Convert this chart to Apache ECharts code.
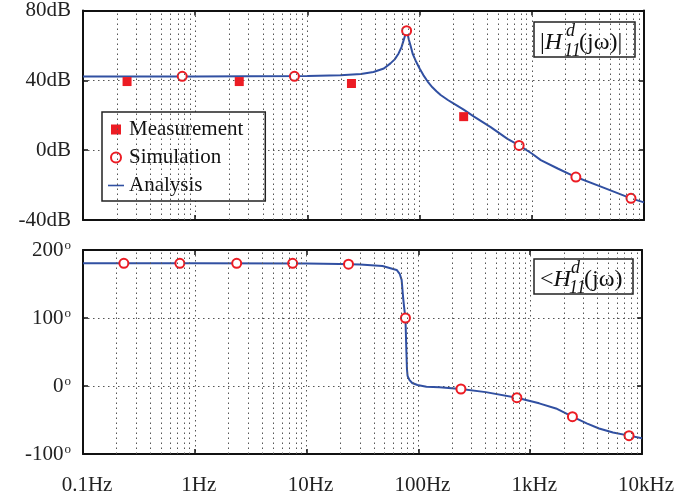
<!DOCTYPE html>
<html>
<head>
<meta charset="utf-8">
<script src="https://cdn.jsdelivr.net/npm/echarts@6/dist/echarts.min.js"></script>
<style>html,body{margin:0;padding:0;background:#fff}#c{width:677px;height:501px}</style>
</head>
<body>
<div id="c"></div>
<script>
// ---- data ----
const xTickValues = [0.1, 1, 10, 100, 1000, 10000];
const xTickLabels = ['0.1Hz', '1Hz', '10Hz', '100Hz', '1kHz', '10kHz'];
const magTickLabels = ['-40dB', '0dB', '40dB', '80dB'];
const phaseTickLabels = ['-100', '0', '100', '200'];

const measFreq = [0.247, 2.47, 24.7, 247];
const measMag  = [39.3, 39.3, 38.2, 19.2];

const simMagFreq = [0.766, 7.66, 76.6, 771, 2471, 7656];
const simMag     = [42.3, 42.3, 68.4, 2.7, -15.4, -27.6];

const simPhaseFreq = [0.232, 0.735, 2.37, 7.5, 23.7, 76.6, 240, 760, 2386, 7656];
const simPhase     = [180.4, 180.4, 180.4, 180.4, 179.2, 100, -4.4, -17.2, -45.1, -73];

const anaMagFreq = [0.1, 1, 3, 10, 19.7, 30, 38.8, 48, 55, 60, 65, 69, 72, 74.5, 76.6, 78, 80, 83, 87, 92, 100, 108, 118, 130, 142, 154, 180, 200, 247, 303, 430, 607, 771, 1000, 1203, 1700, 2471, 4130, 7656, 10000];
const anaMag     = [42.2, 42.2, 42.3, 42.5, 42.9, 43.6, 44.8, 46.8, 49.7, 52, 55.4, 59, 62.9, 66, 69, 67, 63.5, 60, 55, 51.4, 46.8, 43, 39.3, 36, 33.6, 31.6, 28.6, 26.8, 23.2, 19.4, 13.2, 6.5, 2.7, -1.9, -5.7, -10.5, -15.4, -20.9, -27.6, -29.9];

const anaPhaseFreq = [0.1, 1, 10, 19.7, 30, 47.7, 63.9, 68, 70.8, 73, 74.5, 75.5, 76.6, 78, 79, 80, 83, 88, 98, 118, 154, 240, 400, 760, 1203, 1700, 2386, 3200, 4130, 5500, 7656, 10000];
const anaPhase     = [180.4, 180.4, 180.3, 179.4, 178.6, 176.5, 170.6, 165, 156, 130, 116, 108, 100, 53, 25, 15, 9, 4.4, 1.5, -1, -2, -4.4, -9, -17.2, -25.5, -33, -45.1, -55, -62.5, -68.5, -73, -76.9];

// minor grid positions (2..9 per decade)
const minorGridFreq = [];
[0.1, 1, 10, 100, 1000].forEach(d => { for (let k = 2; k <= 9; k++) minorGridFreq.push(+(d * k).toPrecision(3)); });

const zip = (a, b) => a.map((v, i) => [v, b[i]]);

// ---- styles ----
const FONT = "'Liberation Serif', 'Times New Roman', serif";
const BLUE = '#3150a2';
const RED = '#ec1c24';
const AXIS_COLOR = '#111';
const gridDot = { color: '#555', width: 1, type: [1.5, 3.5] };

function xAxisFor(gridIndex, position, showLabel) {
  return {
    type: 'log', logBase: 10, min: 0.1, max: 10000, gridIndex, position,
    splitNumber: 5,
    axisLine: { show: true, onZero: false, lineStyle: { color: AXIS_COLOR, width: 2 } },
    axisTick: { show: true, inside: true, length: 5, lineStyle: { color: AXIS_COLOR, width: 1.5 } },
    axisLabel: {
      show: showLabel, margin: 21, fontFamily: FONT, fontSize: 21, color: '#222',
      padding: [0, 0, 0, 8],
      formatter: v => { const i = xTickValues.findIndex(t => Math.abs(Math.log10(t) - Math.log10(v)) < 1e-6); return i >= 0 ? xTickLabels[i] : ''; }
    },
    splitLine: { show: position === 'bottom', lineStyle: gridDot },
    minorTick: { show: false }
  };
}

function yAxisFor(gridIndex, position, min, max, interval, labels, isPhase) {
  return {
    type: 'value', gridIndex, position, min, max, interval,
    axisLine: { show: true, onZero: false, lineStyle: { color: AXIS_COLOR, width: 2 } },
    axisTick: { show: true, inside: true, length: 5, lineStyle: { color: AXIS_COLOR, width: 1.5 } },
    axisLabel: {
      show: position === 'left', margin: 12, fontFamily: FONT, fontSize: 21, color: '#222',
      formatter: v => {
        const i = Math.round((v - min) / interval);
        return isPhase ? '{a|' + labels[i] + '}{s|o}' : labels[i];
      },
      rich: isPhase ? {
        a: { fontFamily: FONT, fontSize: 21, color: '#222' },
        s: { fontFamily: FONT, fontSize: 13, color: '#222', verticalAlign: 'top', padding: [0, 0, 0, 1] }
      } : undefined
    },
    splitLine: { show: position === 'left', lineStyle: gridDot }
  };
}

const minorMarkLine = {
  silent: true, symbol: ['none', 'none'], animation: false,
  label: { show: false },
  lineStyle: { color: '#555', width: 1, type: [1.5, 3.5] },
  data: minorGridFreq.map(f => ({ xAxis: f }))
};

const chart = echarts.init(document.getElementById('c'), null, { renderer: 'canvas' });

function annotation(x, y, w, h, isAngle) {
  const midY = y + 21;
  const off = isAngle ? 5 : 0;
  return {
    type: 'group', z: 100,
    children: [
      { type: 'rect', shape: { x, y, width: w, height: h }, style: { fill: '#fff', stroke: '#222', lineWidth: 1.5 } },
      { type: 'text', x: x + 6, y: midY, style: {
          text: isAngle ? '{n|<}{i|H}' : '{n||}{i|H}', verticalAlign: 'middle', align: 'left',
          rich: {
            n: { fontFamily: FONT, fontSize: 24, fill: '#111' },
            i: { fontFamily: FONT, fontSize: 24, fontStyle: 'italic', fill: '#111' }
          } } },
      { type: 'text', x: x + 32 + off, y: midY - 12, style: { text: 'd', font: 'italic 18px ' + FONT, fill: '#111', verticalAlign: 'middle', align: 'left' } },
      { type: 'text', x: x + 30 + off, y: midY + 8, style: { text: '11', font: 'italic 18px ' + FONT, fill: '#111', verticalAlign: 'middle', align: 'left' } },
      { type: 'text', x: x + 45 + off, y: midY, style: { text: isAngle ? '(jω)' : '(jω)|', font: '24px ' + FONT, fill: '#111', verticalAlign: 'middle', align: 'left' } }
    ]
  };
}

chart.setOption({
  animation: false,
  backgroundColor: '#fff',
  grid: [
    { left: 83, right: 33, top: 10, height: 210 },
    { left: 83, right: 33, top: 250, height: 204 }
  ],
  xAxis: [
    xAxisFor(0, 'bottom', false),
    xAxisFor(0, 'top', false),
    xAxisFor(1, 'bottom', true),
    xAxisFor(1, 'top', false)
  ],
  yAxis: [
    yAxisFor(0, 'left', -40, 80, 40, magTickLabels, false),
    yAxisFor(0, 'right', -40, 80, 40, magTickLabels, false),
    yAxisFor(1, 'left', -100, 200, 100, phaseTickLabels, true),
    yAxisFor(1, 'right', -100, 200, 100, phaseTickLabels, true)
  ],
  legend: {
    left: 102, top: 112, orient: 'vertical',
    backgroundColor: '#fff', borderColor: '#222', borderWidth: 1.5,
    padding: [7, 22, 5, 6], itemGap: 7, itemWidth: 16, itemHeight: 10,
    textStyle: { fontFamily: FONT, fontSize: 21, color: '#111' },
    data: [
      { name: 'Measurement', icon: 'path://M0,0H10V10H0Z' },
      { name: 'Simulation', icon: 'emptyCircle' },
      { name: 'Analysis', icon: 'path://M0,0H40V4H0Z', itemStyle: { color: BLUE, borderWidth: 0 } }
    ],
    selectedMode: false
  },
  graphic: [
    annotation(534, 22, 101, 35, false),
    annotation(534, 259, 99, 35, true)
  ],
  series: [
    { type: 'line', name: '_grid0', xAxisIndex: 0, yAxisIndex: 0, data: [], markLine: minorMarkLine, z: 1 },
    { type: 'line', name: '_grid1', xAxisIndex: 2, yAxisIndex: 2, data: [], markLine: minorMarkLine, z: 1 },
    { type: 'line', name: 'Analysis', xAxisIndex: 0, yAxisIndex: 0, symbol: 'none', smooth: false,
      lineStyle: { color: BLUE, width: 2 }, itemStyle: { color: BLUE }, data: zip(anaMagFreq, anaMag), z: 3 },
    { type: 'line', name: 'Analysis', xAxisIndex: 2, yAxisIndex: 2, symbol: 'none', smooth: false,
      lineStyle: { color: BLUE, width: 2 }, itemStyle: { color: BLUE }, data: zip(anaPhaseFreq, anaPhase), z: 3 },
    { type: 'scatter', name: 'Measurement', xAxisIndex: 0, yAxisIndex: 0, symbol: 'rect', symbolSize: 9,
      itemStyle: { color: RED, opacity: 1 }, data: zip(measFreq, measMag), z: 4 },
    { type: 'scatter', name: 'Simulation', xAxisIndex: 0, yAxisIndex: 0, symbol: 'emptyCircle', symbolSize: 9,
      itemStyle: { color: RED, borderColor: RED, borderWidth: 2, opacity: 1 }, data: zip(simMagFreq, simMag), z: 4 },
    { type: 'scatter', name: 'Simulation', xAxisIndex: 2, yAxisIndex: 2, symbol: 'emptyCircle', symbolSize: 9,
      itemStyle: { color: RED, borderColor: RED, borderWidth: 2, opacity: 1 }, data: zip(simPhaseFreq, simPhase), z: 4 }
  ]
});
</script>
</body>
</html>
